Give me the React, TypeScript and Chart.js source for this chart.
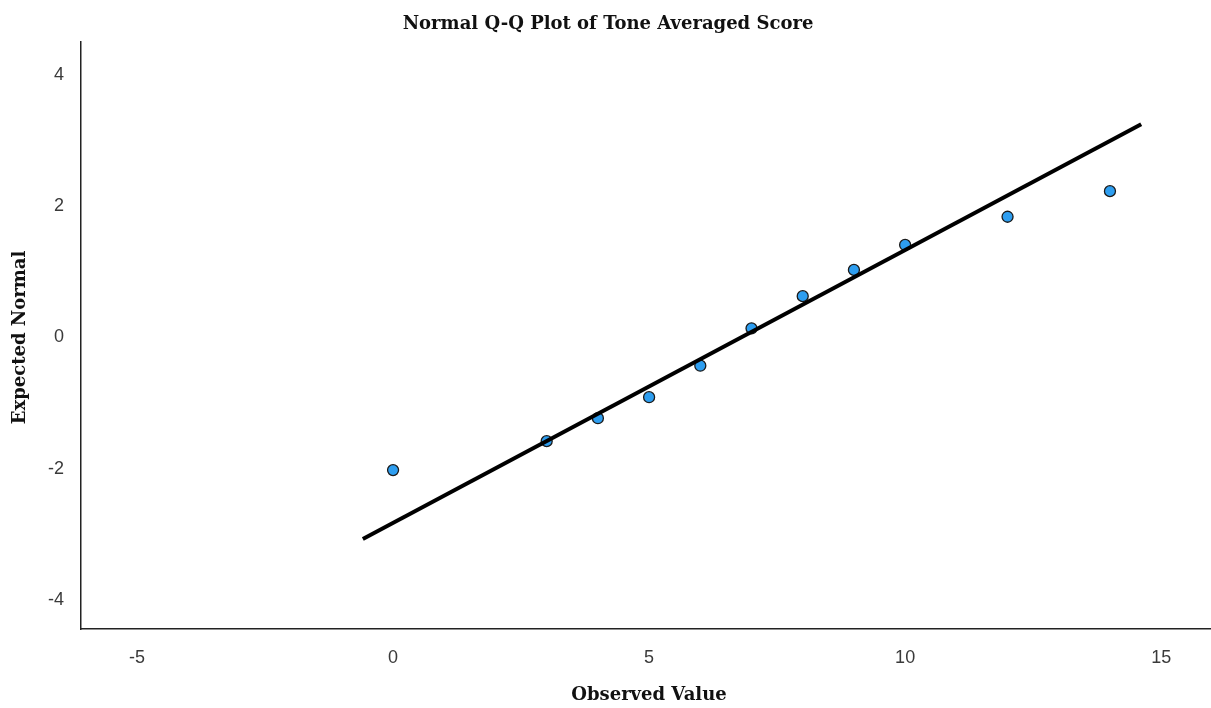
import React, { useEffect, useRef } from "react";
import { Chart, registerables } from "chart.js";

Chart.register(...registerables);

// Observed scores and their expected normal quantiles
const observedValues = [0, 3, 4, 5, 6, 7, 8, 9, 10, 12, 14];
const expectedNormal = [-2.02, -1.58, -1.23, -0.91, -0.43, 0.14, 0.63, 1.03, 1.41, 1.84, 2.23];

// Reference line end points
const refLineX = [-0.59, 14.61];
const refLineY = [-3.07, 3.25];

const chartTitle = "Normal Q-Q Plot of Tone Averaged Score";
const xAxisTitle = "Observed Value";
const yAxisTitle = "Expected Normal";

const W = 1211;
const H = 708;
// Canvas is a little wider than the frame so the x axis runs to the frame's right edge
const CANVAS_W = 1218;

const titleFont = "bold 18px 'DejaVu Serif', serif";
const tickFont = { family: "'Liberation Sans', sans-serif", size: 18 };

const titlesPlugin = {
  id: "qqTitles",
  afterDraw(chart: any) {
    const ctx = chart.ctx as CanvasRenderingContext2D;
    const area = chart.chartArea;
    ctx.save();
    ctx.fillStyle = "#111";
    ctx.font = titleFont;
    ctx.textAlign = "center";
    ctx.textBaseline = "middle";
    ctx.fillText(chartTitle, 608, 24);
    ctx.fillText(xAxisTitle, 649, 695);
    ctx.translate(20, (area.top + area.bottom) / 2 + 2);
    ctx.rotate(-Math.PI / 2);
    ctx.fillText(yAxisTitle, 0, 0);
    ctx.restore();
  },
};

export default function App() {
  const canvasRef = useRef<HTMLCanvasElement | null>(null);

  useEffect(() => {
    const canvas = canvasRef.current;
    if (!canvas) return;
    const points = observedValues.map((x, i) => ({ x, y: expectedNormal[i] }));
    const line = refLineX.map((x, i) => ({ x, y: refLineY[i] }));

    const chart = new Chart(canvas, {
      type: "scatter",
      data: {
        datasets: [
          {
            type: "line",
            label: "Reference",
            data: line,
            borderColor: "#000",
            borderWidth: 4,
            pointRadius: 0,
            fill: false,
            order: 0,
          } as any,
          {
            label: "Observed",
            data: points,
            backgroundColor: "#2e9ef0",
            borderColor: "#1b1b1b",
            borderWidth: 1.3,
            pointRadius: 5.5,
            order: 1,
          },
        ],
      },
      options: {
        responsive: false,
        animation: false,
        layout: { padding: { top: 42, left: 0, right: 0, bottom: 0 } },
        plugins: {
          legend: { display: false },
          title: { display: false },
          tooltip: { enabled: false },
        },
        scales: {
          x: {
            type: "linear",
            min: -6.094,
            max: 15.977,
            grid: { display: false },
            border: { display: true, color: "#222", width: 1.5 },
            ticks: {
              stepSize: 5,
              includeBounds: false,
              padding: 10,
              color: "#3a3a3a",
              font: tickFont,
            },
            afterFit(scale: any) {
              scale.height = 79;
            },
          },
          y: {
            type: "linear",
            min: -4.442,
            max: 4.503,
            grid: { display: false },
            border: { display: true, color: "#222", width: 1.5 },
            ticks: {
              stepSize: 2,
              includeBounds: false,
              padding: 9,
              color: "#3a3a3a",
              font: tickFont,
            },
            afterFit(scale: any) {
              scale.width = 81;
            },
          },
        },
      },
      plugins: [titlesPlugin],
    });

    return () => chart.destroy();
  }, []);

  return (
    <div
      style={{
        position: "absolute",
        left: 0,
        top: 0,
        width: W,
        height: H,
        overflow: "hidden",
        background: "#fff",
      }}
    >
      <canvas ref={canvasRef} width={CANVAS_W} height={H} style={{ display: "block" }} />
    </div>
  );
}
